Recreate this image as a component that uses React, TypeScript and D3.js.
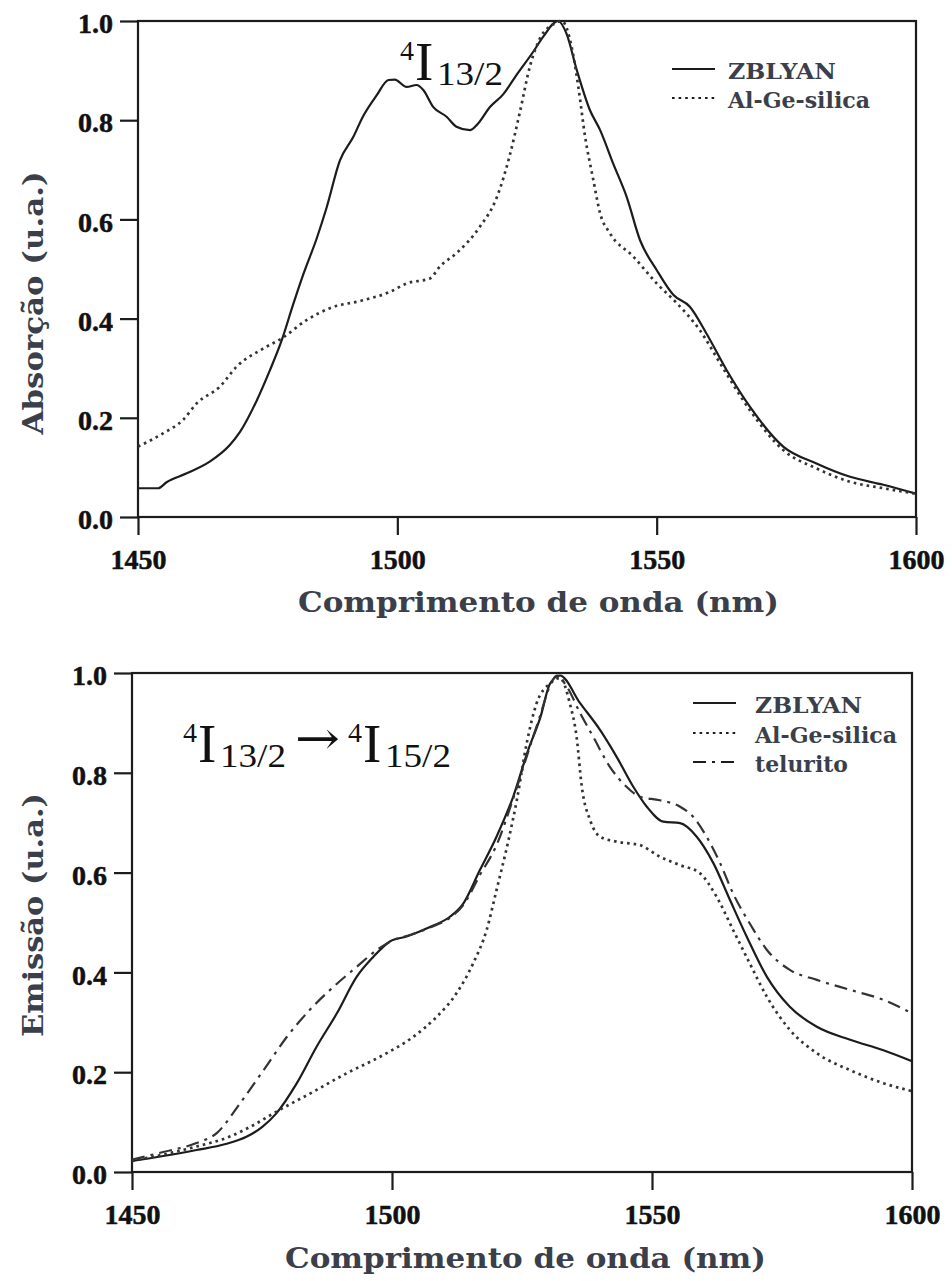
import { useEffect, useRef } from 'react'
import * as d3 from 'd3'

// wavelength (nm) / intensity (a.u.)
const xTicks = [1450, 1500, 1550, 1600]
const yTicks = [0, 0.2, 0.4, 0.6, 0.8, 1.0]

const absZblyan: [number, number][] = [
  [1450, 0.058], [1453.9, 0.058], [1455.5, 0.07], [1459.4, 0.088], [1463.9, 0.112],
  [1467.7, 0.145], [1469.7, 0.172], [1472.9, 0.235], [1475.4, 0.295], [1477.7, 0.356],
  [1479.9, 0.428], [1481.9, 0.49], [1484.5, 0.563], [1486.4, 0.625], [1488.9, 0.718],
  [1491.5, 0.766], [1493.4, 0.808], [1496, 0.85], [1498.3, 0.881], [1499.5, 0.882],
  [1501.8, 0.867], [1503.7, 0.871], [1505, 0.861], [1506.9, 0.827], [1509.5, 0.807],
  [1511.4, 0.787], [1514, 0.78], [1515.3, 0.79], [1517.9, 0.827], [1520.4, 0.852],
  [1522.9, 0.89], [1526.2, 0.938], [1528.1, 0.968], [1531, 1.0], [1532.6, 0.975],
  [1534.6, 0.901], [1537.1, 0.821], [1539.1, 0.78], [1541.6, 0.713], [1544.2, 0.646],
  [1546.8, 0.558], [1550, 0.498], [1553.2, 0.448], [1556.4, 0.424], [1559.6, 0.37],
  [1563.5, 0.296], [1568, 0.222], [1574.4, 0.142], [1580.8, 0.108], [1587.3, 0.081],
  [1593.7, 0.065], [1600, 0.047],
]

const absSilica: [number, number][] = [
  [1450, 0.142], [1454.9, 0.169], [1458.7, 0.196], [1461.3, 0.229], [1465.8, 0.263],
  [1469, 0.303], [1474.2, 0.34], [1477.7, 0.36], [1482.5, 0.397], [1487, 0.421],
  [1493.4, 0.437], [1498.6, 0.454], [1501.8, 0.471], [1506.3, 0.481], [1508.2, 0.505],
  [1511.4, 0.532], [1515.9, 0.585], [1519.2, 0.645], [1521.7, 0.73], [1523.6, 0.815],
  [1525.6, 0.91], [1527.5, 0.965], [1530.4, 0.995], [1531.7, 1.0], [1533.6, 0.948],
  [1534.9, 0.867], [1536.2, 0.767], [1537.8, 0.679], [1539.1, 0.612], [1541, 0.572],
  [1545.5, 0.525], [1550, 0.471], [1553.9, 0.431], [1558.3, 0.377], [1562.8, 0.3],
  [1568, 0.215], [1574.4, 0.135], [1580.8, 0.098], [1587.3, 0.071], [1593.7, 0.058],
  [1600, 0.047],
]

const emiZblyan: [number, number][] = [
  [1450, 0.022], [1456, 0.032], [1462.4, 0.044], [1468, 0.056], [1472.1, 0.071],
  [1475, 0.09], [1477.8, 0.118], [1481.7, 0.178], [1485.5, 0.251], [1489.4, 0.318],
  [1493.2, 0.391], [1496.4, 0.431], [1499.6, 0.462], [1502.8, 0.472], [1507.3, 0.491],
  [1511.2, 0.512], [1513.7, 0.538], [1516.9, 0.605], [1520.1, 0.672], [1523.3, 0.752],
  [1526.2, 0.846], [1528.5, 0.91], [1530.4, 0.979], [1532.3, 0.995], [1536.2, 0.939],
  [1540, 0.886], [1543.2, 0.832], [1546.4, 0.772], [1549, 0.732], [1552.2, 0.702],
  [1555.4, 0.699], [1558.6, 0.672], [1561.8, 0.619], [1565, 0.545], [1568.2, 0.472],
  [1572.1, 0.391], [1576.5, 0.331], [1581.7, 0.291], [1588.1, 0.265], [1594.5, 0.244],
  [1600, 0.222],
]

const emiSilica: [number, number][] = [
  [1450, 0.022], [1456, 0.035], [1462.4, 0.051], [1468.8, 0.071], [1473, 0.092],
  [1477.8, 0.121], [1484.9, 0.161], [1491.3, 0.198], [1497.7, 0.231], [1504.1, 0.271],
  [1508.6, 0.311], [1512.4, 0.358], [1515.6, 0.418], [1518.2, 0.485], [1520.1, 0.565],
  [1522.4, 0.665], [1524, 0.745], [1525.9, 0.859], [1527.8, 0.939], [1530.4, 0.979],
  [1532.3, 0.99], [1534.2, 0.939], [1535.5, 0.872], [1536.5, 0.772], [1538.1, 0.705],
  [1540, 0.672], [1543.2, 0.662], [1547.7, 0.655], [1551.5, 0.632], [1555.4, 0.615],
  [1559.2, 0.599], [1562.4, 0.552], [1565.6, 0.485], [1568.8, 0.418], [1572.1, 0.351],
  [1576.5, 0.285], [1581.7, 0.238], [1588.1, 0.204], [1594.5, 0.178], [1600, 0.162],
]

const emiTelurito: [number, number][] = [
  [1450, 0.025], [1456, 0.04], [1462.4, 0.058], [1466.3, 0.078], [1470.8, 0.138],
  [1475.3, 0.204], [1479.8, 0.271], [1484.2, 0.325], [1488.1, 0.365], [1493.2, 0.411],
  [1497.1, 0.445], [1500.3, 0.465], [1503.5, 0.475], [1507.3, 0.49], [1511.2, 0.51],
  [1513.7, 0.535], [1516.9, 0.595], [1520.1, 0.655], [1523.3, 0.748], [1526.2, 0.842],
  [1528.5, 0.915], [1530.4, 0.975], [1531.7, 0.995], [1533.6, 0.973], [1536.2, 0.919],
  [1538.7, 0.872], [1541.9, 0.812], [1545.1, 0.772], [1547.7, 0.752], [1551.5, 0.745],
  [1555.4, 0.732], [1557.9, 0.712], [1560.5, 0.672], [1563.1, 0.619], [1565.6, 0.558],
  [1568.8, 0.498], [1572.1, 0.445], [1576.5, 0.405], [1581.7, 0.385], [1588.1, 0.365],
  [1594.5, 0.345], [1600, 0.318],
]

const absLegend = ['ZBLYAN', 'Al-Ge-silica']
const emiLegend = ['ZBLYAN', 'Al-Ge-silica', 'telurito']
const xTitle = 'Comprimento de onda (nm)'
const absTitle = 'Absorção (u.a.)'
const emiTitle = 'Emissão (u.a.)'

const ink = '#1c1c1c'
const slate = '#3a3f4a'
const dashes: Record<string, string | null> = {
  solid: null,
  dotted: '2.6,4',
  dashdot: '13,6,3,6',
}

type Panel = {
  left: number, right: number, top: number, bottom: number
  series: { data: [number, number][], style: string }[]
  legend: string[]
  legendX: number, legendTextX: number, legendY: number[], legendW: number[]
  yTitle: string, yTitleMid: number, yTitleLen: number
  xTitleX: number, xTitleY: number
}

const App = () => {
  const ref = useRef<SVGSVGElement>(null)

  const drawPanel = (svg: any, p: Panel) => {
    const x = d3.scaleLinear().domain([1450, 1600]).range([p.left, p.right])
    const y = d3.scaleLinear().domain([0, 1]).range([p.bottom, p.top])
    const g = svg.append('g')

    // frame
    g.append('rect')
      .attr('x', p.left).attr('y', p.top)
      .attr('width', p.right - p.left).attr('height', p.bottom - p.top)
      .attr('fill', 'none').attr('stroke', ink).attr('stroke-width', 2.2)

    // curves
    const line = d3.line<[number, number]>()
      .x(d => x(d[0])).y(d => y(d[1]))
      .curve(d3.curveMonotoneX)
    p.series.forEach(s => {
      g.append('path')
        .datum(s.data)
        .attr('d', line)
        .attr('fill', 'none')
        .attr('stroke', s.style === 'solid' ? ink : '#333')
        .attr('stroke-width', s.style === 'dotted' ? 2.7 : 2.2)
        .attr('stroke-dasharray', dashes[s.style])
        .attr('stroke-linejoin', 'round')
    })

    // x axis
    g.append('g')
      .attr('transform', `translate(0,${p.bottom})`)
      .attr('color', ink)
      .call(d3.axisBottom(x).tickValues(xTicks).tickSize(18).tickSizeOuter(0)
        .tickPadding(14).tickFormat(d3.format('d')))
      .call((a: any) => a.select('.domain').remove())
      .call((a: any) => a.selectAll('line').attr('stroke-width', 2.2))
      .call((a: any) => a.selectAll('text')
        .attr('font-family', '"Liberation Serif", serif')
        .attr('font-weight', 'bold').attr('font-size', 28).attr('fill', '#111')
        .attr('stroke', '#111').attr('stroke-width', 0.5))

    // y axis
    g.append('g')
      .attr('transform', `translate(${p.left},0)`)
      .attr('color', ink)
      .call(d3.axisLeft(y).tickValues(yTicks).tickSize(18).tickSizeOuter(0)
        .tickPadding(7).tickFormat(d3.format('.1f')))
      .call((a: any) => a.select('.domain').remove())
      .call((a: any) => a.selectAll('line').attr('stroke-width', 2.2))
      .call((a: any) => a.selectAll('text')
        .attr('dy', '0.42em')
        .attr('font-family', '"Liberation Serif", serif')
        .attr('font-weight', 'bold').attr('font-size', 28).attr('fill', '#111')
        .attr('stroke', '#111').attr('stroke-width', 0.5))

    // axis titles
    g.append('text')
      .attr('x', p.xTitleX).attr('y', p.xTitleY)
      .attr('font-family', '"DejaVu Serif", serif').attr('font-weight', 'bold')
      .attr('font-size', 28).attr('fill', slate)
      .attr('textLength', 481).attr('lengthAdjust', 'spacingAndGlyphs')
      .text(xTitle)
    g.append('text')
      .attr('transform', `translate(43,${p.yTitleMid}) rotate(-90)`)
      .attr('text-anchor', 'middle')
      .attr('font-family', '"DejaVu Serif", serif').attr('font-weight', 'bold')
      .attr('font-size', 28).attr('fill', slate)
      .attr('textLength', p.yTitleLen).attr('lengthAdjust', 'spacingAndGlyphs')
      .text(p.yTitle)

    // legend
    p.legend.forEach((name, i) => {
      const ly = p.legendY[i]
      g.append('line')
        .attr('x1', p.legendX).attr('x2', p.legendX + 43)
        .attr('y1', ly).attr('y2', ly)
        .attr('stroke', ink).attr('stroke-width', 2.2)
        .attr('stroke-dasharray', dashes[p.series[i].style])
      g.append('text')
        .attr('x', p.legendTextX).attr('y', ly + 10)
        .attr('font-family', '"DejaVu Serif", serif').attr('font-weight', 'bold')
        .attr('font-size', 23).attr('fill', slate)
        .attr('textLength', p.legendW[i]).attr('lengthAdjust', 'spacingAndGlyphs')
        .text(name)
    })
  }

  // term symbol like 4I13/2, drawn as text pieces
  const term = (svg: any, x0: number, base: number, sub: string) => {
    const f = '"Liberation Serif", serif'
    svg.append('text').attr('x', x0).attr('y', base - 20)
      .attr('font-family', f).attr('font-size', 28).attr('fill', '#111').text('4')
    svg.append('text').attr('x', x0 + 15).attr('y', base)
      .attr('font-family', f).attr('font-size', 55).attr('fill', '#111').text('I')
    svg.append('text').attr('x', x0 + 37).attr('y', base + 5)
      .attr('font-family', f).attr('font-size', 34).attr('fill', '#111')
      .attr('textLength', 66).attr('lengthAdjust', 'spacingAndGlyphs').text(sub)
  }

  useEffect(() => {
    const svg = d3.select(ref.current)
    svg.selectAll('*').remove()

    drawPanel(svg, {
      left: 138, right: 916, top: 21, bottom: 517,
      series: [{ data: absZblyan, style: 'solid' }, { data: absSilica, style: 'dotted' }],
      legend: absLegend, legendX: 672, legendTextX: 728, legendY: [69, 98], legendW: [108, 142],
      yTitle: absTitle, yTitleMid: 303, yTitleLen: 263,
      xTitleX: 298, xTitleY: 612,
    })
    drawPanel(svg, {
      left: 132, right: 912, top: 673, bottom: 1172,
      series: [
        { data: emiZblyan, style: 'solid' },
        { data: emiSilica, style: 'dotted' },
        { data: emiTelurito, style: 'dashdot' },
      ],
      legend: emiLegend, legendX: 693, legendTextX: 755, legendY: [703, 733, 762], legendW: [107, 142, 93],
      yTitle: emiTitle, yTitleMid: 915, yTitleLen: 244,
      xTitleX: 285, xTitleY: 1268,
    })

    // annotations
    term(svg, 400, 80, '13/2')
    term(svg, 183, 762, '13/2')
    svg.append('text').attr('x', 295).attr('y', 754)
      .attr('font-family', '"DejaVu Serif", serif').attr('font-size', 46).attr('fill', '#111')
      .attr('textLength', 45).attr('lengthAdjust', 'spacingAndGlyphs').text('→')
    term(svg, 348, 762, '15/2')
  }, [])

  return (
    <svg ref={ref} width={952} height={1281}
      style={{ position: 'absolute', left: 0, top: 0, background: '#fff' }} />
  )
}

export default App
